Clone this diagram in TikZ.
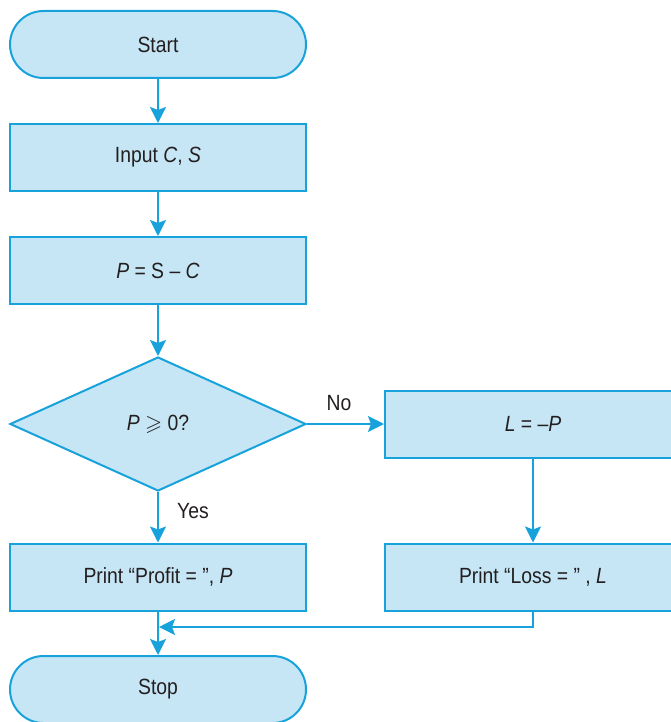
\documentclass[tikz,border=0pt]{standalone}
\usepackage{amssymb}
\usepackage{fontspec}
\setmainfont[FakeStretch=0.88]{Liberation Sans}
\usetikzlibrary{shapes.geometric,shapes.misc,arrows.meta}
\definecolor{boxfill}{HTML}{C6E6F5}
\definecolor{boxline}{HTML}{17A2DB}
\definecolor{txt}{HTML}{231F20}
\tikzset{
  base/.style={draw=boxline, fill=boxfill, line width=2pt, text=txt, inner sep=0pt,
    font=\fontsize{22}{26}\selectfont},
  term/.style={base, rounded rectangle, minimum width=296pt, minimum height=67pt},
  proc/.style={base, rectangle, minimum width=296pt, minimum height=67pt},
  decis/.style={base, diamond, minimum width=296pt, minimum height=134pt},
  arr/.style={draw=boxline, line width=2pt, -{Stealth[length=16pt, width=16pt, inset=3pt]}},
  lab/.style={text=txt, font=\fontsize{22}{26}\selectfont, inner sep=0pt}
}
\begin{document}
\begin{tikzpicture}[x=1pt, y=-1pt]
\useasboundingbox (0,0) rectangle (671,722);
\clip (0,0) rectangle (671,722);
\node[term] (start) at (158,44.5) {Start};
\node[proc] (input) at (158,157.5) {Input \textit{C}, \textit{S}};
\node[proc] (calc) at (158,270.5) {\textit{P} = S – \textit{C}};
\node[decis] (dec) at (158,424) {\textit{P} $\geqslant$ 0?};
\node[proc] (neg) at (533,424) {\textit{L} = –\textit{P}};
\node[proc] (profit) at (158,577) {Print “Profit = ”, \textit{P}};
\node[proc] (loss) at (533,577) {Print “Loss = ” , \textit{L}};
\node[term] (stop) at (158,689.5) {Stop};
\coordinate (m) at (159,627);
\draw[arr] (start) -- (input);
\draw[arr] (input) -- (calc);
\draw[arr] (calc) -- (dec);
\draw[arr] (dec.east) -- (neg.west);
\draw[arr] (dec.south) -- (profit.north);
\draw[arr] (neg) -- (loss);
\draw[arr] (profit) -- (stop);
\draw[arr] (loss.south) |- (m);
\node[lab] (no) at (339,403) {No};
\node[lab] (yes) at (193,511) {Yes};
\end{tikzpicture}
\end{document}
